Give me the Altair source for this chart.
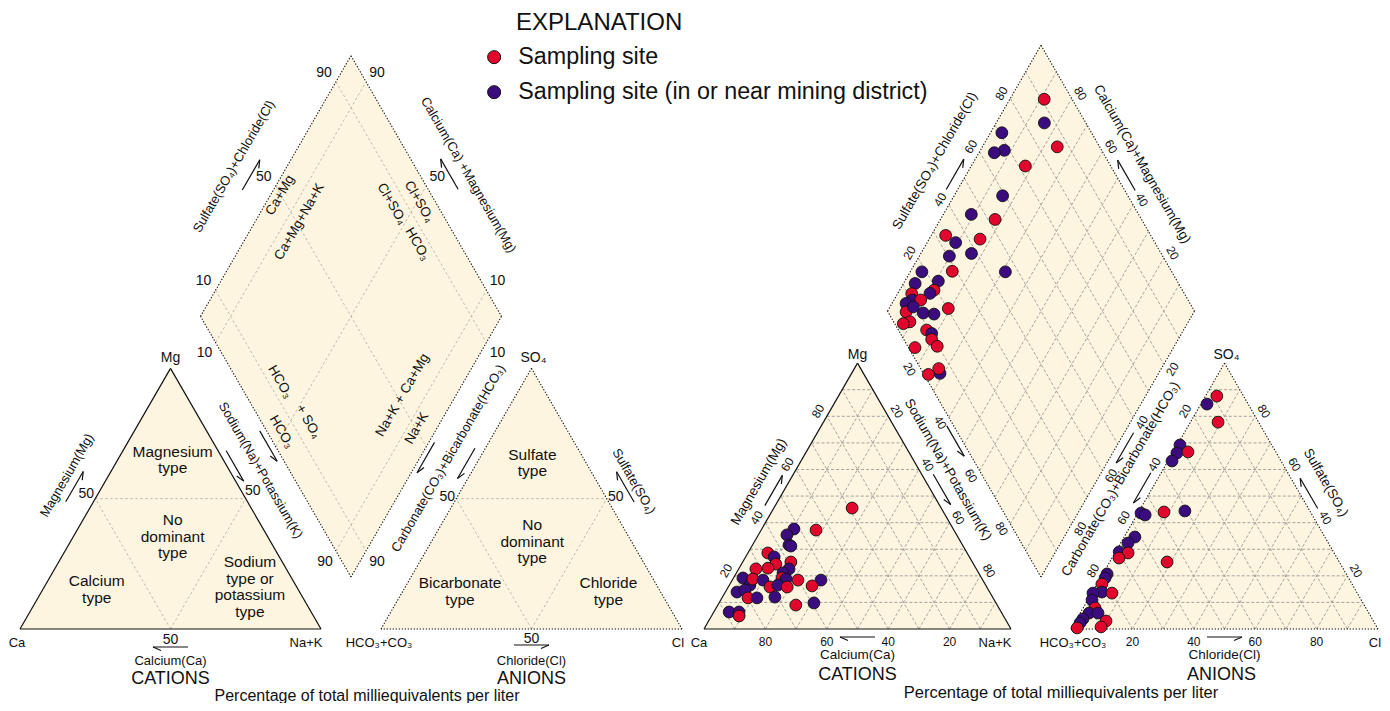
import math
import altair as alt
import pandas as pd

FONT = "Liberation Sans"
H = math.sqrt(3) / 2
RED = "#E2062C"
PURPLE = "#3B0C7D"
FILL = "#FDF5DF"
GRID = "#9A9A9A"
INK = "#111111"
LINE_H = 16.5

SITE_A = "Sampling site"
SITE_B = "Sampling site (in or near mining district)"
GROUP_NAME = {"R": SITE_A, "P": SITE_B}

# ---------------- data: percent of total milliequivalents per liter ----------------
# cation triangle (right diagram)
cat_mg = [37.6, 35.4, 31.6, 31.2, 37.2, 45.5, 28.6, 27.1, 24.4, 25.2, 22.6, 21.1, 22.6, 22.9, 19.2, 16.5,
          18.8, 18.4, 19.2, 18.8, 18.4, 15.8, 16.5, 15.8, 18.4, 16.2, 13.9, 14.7, 11.7, 11.7, 12.0, 9.0,
          9.8, 6.4, 6.4, 4.9]
cat_nak = [10.5, 9.3, 11.9, 12.7, 17.9, 25.5, 6.5, 9.3, 11.2, 15.7, 16.4, 15.2, 5.6, 9.4, 3.1, 6.7,
           6.5, 10.0, 15.8, 17.3, 21.4, 13.6, 15.8, 19.2, 28.9, 27.1, 3.8, 6.0, 8.5, 11.4, 17.1, 25.4,
           30.9, 5.0, 8.2, 9.0]
cat_grp = ["P", "P", "P", "P", "R", "R", "R", "P", "R", "R", "P", "P", "R", "R", "P", "P",
           "R", "P", "R", "P", "R", "R", "P", "R", "P", "R", "P", "P", "R", "P", "P", "R",
           "P", "P", "P", "R"]

# anion triangle (right diagram)
an_so4 = [87.6, 84.6, 77.8, 69.2, 66.2, 66.6, 63.2, 43.6, 42.9, 44.0, 44.4, 34.6, 32.3, 29.0, 28.6, 26.7,
          25.2, 20.7, 19.2, 16.9, 13.9, 13.5, 13.5, 10.9, 7.9, 6.0, 6.0, 3.0, 0.8, 3.8, 2.3, 0.4]
an_cl = [3.7, 2.0, 9.0, 0.9, 1.4, 4.8, 1.3, 1.0, 2.7, 8.3, 14.9, 3.5, 2.4, 1.2, 4.3, 2.3,
         18.7, 1.4, 1.5, 1.6, 3.1, 6.6, 0.4, 1.4, 3.9, 2.9, 5.8, 9.9, 9.4, 2.0, 1.8, 1.8]
an_grp = ["R", "P", "R", "P", "P", "R", "P", "P", "P", "R", "P", "P", "P", "P", "R", "R",
          "R", "P", "P", "R", "P", "R", "P", "P", "R", "P", "P", "R", "R", "P", "P", "R"]

# diamond (right diagram): sulfate+chloride %, sodium+potassium %
dia_so4cl = [90.9, 86.5, 70.8, 68.3, 64.6, 86.2, 72.2, 59.2, 45.5, 52.3, 33.2, 35.1, 43.7, 30.5, 38.2,
             28.6, 45.8, 18.6, 22.2, 19.1, 17.2, 14.2, 11.2, 10.2, 12.9, 7.5, 5.9, 9.2, 11.3, 14.6, 20.3,
             5.3, 2.8, 9.2, 10.2, 9.1, 9.6, 2.1, 5.4, 5.9, 1.4]
dia_nak = [11.2, 15.7, 3.7, 7.8, 5.0, 24.4, 17.6, 15.8, 9.1, 17.8, 4.7, 9.3, 16.6, 9.8, 16.5,
           13.6, 31.0, 3.8, 10.9, 11.2, 10.5, 3.8, 4.6, 6.0, 8.7, 4.6, 6.2, 7.6, 12.0, 15.7, 19.3,
           9.3, 7.5, 16.3, 18.6, 19.7, 22.8, 15.8, 28.8, 27.5, 25.2]
dia_grp = ["R", "P", "P", "P", "P", "R", "R", "P", "P", "R", "R", "P", "R", "P", "P",
           "R", "P", "P", "P", "R", "P", "P", "R", "P", "R", "P", "R", "P", "P", "P", "R",
           "R", "R", "R", "P", "R", "R", "R", "P", "R", "R"]

RIGHT_TICKS = [20, 40, 60, 80]
LEFT_DIAMOND_LEVELS = [10, 50, 90]
LEFT_TRIANGLE_LEVELS = [50]
RIGHT_LEVELS = [10, 20, 30, 40, 50, 60, 70, 80, 90]


# ---------------- geometry ----------------
def piper_geom(x0, y0, s, gap):
    g = {"s": s}
    g["Ca"] = (x0, y0)
    g["NaK"] = (x0 + s, y0)
    g["Mg"] = (x0 + s / 2, y0 - s * H)
    ax = x0 + s + gap
    g["HCO3"] = (ax, y0)
    g["Cl"] = (ax + s, y0)
    g["SO4"] = (ax + s / 2, y0 - s * H)
    bx, by = x0 + s + gap / 2, y0 - gap * H
    g["B"] = (bx, by)
    g["L"] = (bx - s / 2, by - s * H)
    g["T"] = (bx, by - 2 * s * H)
    g["R"] = (bx + s / 2, by - s * H)
    return g


LEFT = piper_geom(20, 629, 301, 60)
RIGHT = piper_geom(704, 629, 307, 60)


def cat_xy(g, mg, nak):
    s = g["s"]
    x0, y0 = g["Ca"]
    return (x0 + s * (nak + mg / 2) / 100, y0 - s * H * mg / 100)


def an_xy(g, so4, cl):
    s = g["s"]
    x0, y0 = g["HCO3"]
    return (x0 + s * (cl + so4 / 2) / 100, y0 - s * H * so4 / 100)


def dia_xy(g, so4cl, nak):
    L, T, B = g["L"], g["T"], g["B"]
    return (L[0] + (T[0] - L[0]) * so4cl / 100 + (B[0] - L[0]) * nak / 100,
            L[1] + (T[1] - L[1]) * so4cl / 100 + (B[1] - L[1]) * nak / 100)


SIDES = {"cat_l": ("Ca", "Mg"), "cat_r": ("Mg", "NaK"), "cat_b": ("NaK", "Ca"),
         "an_l": ("HCO3", "SO4"), "an_r": ("SO4", "Cl"), "an_b": ("Cl", "HCO3"),
         "dia_ul": ("L", "T"), "dia_ur": ("T", "R"), "dia_lr": ("R", "B"), "dia_ll": ("B", "L")}


def side_frame(g, side):
    p0, p1 = g[SIDES[side][0]], g[SIDES[side][1]]
    dx, dy = p1[0] - p0[0], p1[1] - p0[1]
    ln = math.hypot(dx, dy)
    u = (dx / ln, dy / ln)
    n = (u[1], -u[0])
    return p0, p1, u, n


def along(g, side, t, d):
    p0, p1, u, n = side_frame(g, side)
    return (p0[0] + (p1[0] - p0[0]) * t + n[0] * d, p0[1] + (p1[1] - p0[1]) * t + n[1] * d)


# ---------------- build tables ----------------
fills, segs, texts, left_texts = [], [], [], []


def seg(p, q, kind):
    segs.append(dict(x=p[0], y=p[1], x2=q[0], y2=q[1], kind=kind))


def txt(p, label, angle=0, size=13, dx=0, dy=0, table=None):
    nlines = label.count("\n") + 1
    dy = dy - (nlines - 1) * LINE_H / 2
    (texts if table is None else table).append(
        dict(x=p[0] + dx, y=p[1] + dy, label=label, angle=angle, size=size))


def add_fills(name, g):
    for key, (a, m, b) in (("c", (g["Ca"], g["Mg"], g["NaK"])), ("a", (g["HCO3"], g["SO4"], g["Cl"]))):
        fills.extend([dict(shape=name + key, x=a[0], yt=a[1], yb=a[1]),
                      dict(shape=name + key, x=m[0], yt=m[1], yb=a[1]),
                      dict(shape=name + key, x=b[0], yt=b[1], yb=b[1])])
    L, T, R, B = g["L"], g["T"], g["R"], g["B"]
    fills.extend([dict(shape=name + "d", x=L[0], yt=L[1], yb=L[1]),
                  dict(shape=name + "d", x=T[0], yt=T[1], yb=B[1]),
                  dict(shape=name + "d", x=R[0], yt=R[1], yb=R[1])])


def tri_grid(g, f, levels, kind):
    for v in levels:
        seg(f(g, v, 0), f(g, v, 100 - v), kind)
        seg(f(g, 0, v), f(g, 100 - v, v), kind)
        seg(f(g, 0, 100 - v), f(g, 100 - v, 0), kind)


def dia_grid(g, levels, kind):
    for v in levels:
        seg(dia_xy(g, v, 0), dia_xy(g, v, 100), kind)
        seg(dia_xy(g, 0, v), dia_xy(g, 100, v), kind)


def outline(g, names, kind):
    pts = [g[n] for n in names]
    for i in range(len(pts)):
        seg(pts[i], pts[(i + 1) % len(pts)], kind)


def arrow(g, side, t, d, direction, length=35):
    p0, p1, u, n = side_frame(g, side)
    c = along(g, side, t, d)
    ux, uy = u[0] * direction, u[1] * direction
    tail = (c[0] - ux * length / 2, c[1] - uy * length / 2)
    tip = (c[0] + ux * length / 2, c[1] + uy * length / 2)
    px, py = -uy, ux
    if py < 0 or (abs(py) < 1e-9 and px < 0):
        px, py = -px, -py
    barb = (tip[0] - ux * 8 + px * 3.5, tip[1] - uy * 8 + py * 3.5)
    seg(tail, tip, "arrow")
    seg(tip, barb, "arrow")


for nm, g in (("left", LEFT), ("right", RIGHT)):
    add_fills(nm, g)

# grids
tri_grid(LEFT, cat_xy, LEFT_TRIANGLE_LEVELS, "gridL")
tri_grid(LEFT, an_xy, LEFT_TRIANGLE_LEVELS, "gridL")
dia_grid(LEFT, LEFT_DIAMOND_LEVELS, "gridL")
tri_grid(RIGHT, cat_xy, RIGHT_LEVELS, "grid")
tri_grid(RIGHT, an_xy, RIGHT_LEVELS, "grid")
dia_grid(RIGHT, RIGHT_LEVELS, "grid")

# outlines
for g in (LEFT, RIGHT):
    outline(g, ["Ca", "Mg", "NaK"], "solid")
    outline(g, ["HCO3", "SO4", "Cl"], "dotted")
    outline(g, ["L", "T", "R", "B"], "dotted")

# ---------------- left (explanatory) diagram text ----------------
g = LEFT
txt(g["Mg"], "Mg", dy=-10, size=14)
txt(g["Ca"], "Ca", dx=-3, dy=14)
txt(g["NaK"], "Na+K", dx=-15, dy=14)
txt(g["SO4"], "SO₄", dx=2, dy=-10, size=14)
txt(g["HCO3"], "HCO₃+CO₃", dx=-2, dy=14)
txt(g["Cl"], "Cl", dx=-4, dy=14)

txt(along(g, "cat_b", 0.5, 11), "50", size=14)
txt(cat_xy(g, 50, 0), "50", dx=-9, dy=-5, size=14)
txt(cat_xy(g, 50, 50), "50", dx=7, dy=-8, size=14)
txt(along(g, "an_b", 0.5, 10), "50", size=14)
txt(an_xy(g, 50, 0), "50", dx=-9, dy=-2, size=14)
txt(an_xy(g, 50, 50), "50", dx=9, dy=-2, size=14)
for v in LEFT_DIAMOND_LEVELS:
    txt(dia_xy(g, v, 0), str(v), dx=-12, dy=-9, size=14)
    txt(dia_xy(g, 100, 100 - v), str(v), dx=11, dy=-9, size=14)
    if v != 50:
        txt(dia_xy(g, 0, v), str(v), dx=-11, dy=11, size=14)
        txt(dia_xy(g, 100 - v, 100), str(v), dx=11, dy=11, size=14)

txt(along(g, "cat_l", 0.52, 36), "Magnesium(Mg)", angle=300)
txt(along(g, "cat_r", 0.443, 27), "Sodium(Na)+Potassium(K)", angle=60)
txt(along(g, "an_l", 0.603, 27), "Carbonate(CO₃)+Bicarbonate(HCO₃)", angle=300)
txt(along(g, "an_r", 0.495, 32), "Sulfate(SO₄)", angle=60)
txt(along(g, "dia_ul", 0.487, 46), "Sulfate(SO₄)+Chloride(Cl)", angle=300)
txt(along(g, "dia_ur", 0.538, 42), "Calcium(Ca) +Magnesium(Mg)", angle=60)
txt(along(g, "cat_b", 0.5, 32), "Calcium(Ca)")
txt(along(g, "cat_b", 0.5, 50), "CATIONS", size=18)
txt(along(g, "an_b", 0.5, 32), "Chloride(Cl)")
txt(along(g, "an_b", 0.5, 50), "ANIONS", size=18)

arrow(g, "cat_l", 0.50, 24, 1)
arrow(g, "cat_r", 0.388, 7, 1)
arrow(g, "dia_ll", 0.514, 6, -1)
arrow(g, "an_l", 0.618, 9, -1)
arrow(g, "dia_lr", 0.532, 5, 1)
arrow(g, "an_r", 0.497, 22, -1)
arrow(g, "dia_ul", 0.491, 27, 1)
arrow(g, "dia_ur", 0.504, 26, -1)
arrow(g, "cat_b", 0.5, 18, 1)
arrow(g, "an_b", 0.5, 16, -1)

# diamond boundary notes (positions expressed in diamond percentages)
txt(dia_xy(g, 49.7, 3.2), "Ca+Mg", angle=300, size=13.5)
txt(dia_xy(g, 51.0, 14.7), "Ca+Mg+Na+K", angle=300, size=13.5)
txt(dia_xy(g, 94.6, 50.6), "Cl+SO₄", angle=60, size=13.5)
txt(dia_xy(g, 85.1, 42.0), "Cl+SO₄", angle=60, size=13.5)
txt(dia_xy(g, 85.9, 58.2), "HCO₃", angle=60, size=13.5)
txt(dia_xy(g, 13.9, 39.0), "HCO₃", angle=60, size=13.5)
txt(dia_xy(g, 15.6, 56.0), "+ SO₄", angle=60, size=13.5)
txt(dia_xy(g, 4.8, 49.1), "HCO₃", angle=60, size=13.5)
txt(dia_xy(g, 52.0, 82.2), "Na+K + Ca+Mg", angle=300, size=13.5)
txt(dia_xy(g, 50.4, 93.3), "Na+K", angle=300, size=13.5)

# water-type regions
txt(cat_xy(g, 64.8, 18.3), "Magnesium\ntype", size=15.5)
txt(cat_xy(g, 35.4, 33.0), "No\ndominant\ntype", size=15.5)
txt(cat_xy(g, 15.2, 17.9), "Calcium\ntype", size=15.5)
txt(cat_xy(g, 16.2, 68.3), "Sodium\ntype or\npotassium\ntype", size=15.5)
txt(an_xy(g, 63.6, 18.5), "Sulfate\ntype", size=15.5)
txt(an_xy(g, 33.5, 33.5), "No\ndominant\ntype", size=15.5)
txt(an_xy(g, 14.3, 19.1), "Bicarbonate\ntype", size=15.5)
txt(an_xy(g, 14.3, 68.4), "Chloride\ntype", size=15.5)

# ---------------- right (data) diagram text ----------------
g = RIGHT
txt(g["Mg"], "Mg", dy=-8, size=14)
txt(g["Ca"], "Ca", dx=-5, dy=14)
txt(g["NaK"], "Na+K", dx=-16, dy=14)
txt(g["SO4"], "SO₄", dx=2, dy=-8, size=14)
txt(g["HCO3"], "HCO₃+CO₃", dx=2, dy=14)
txt(g["Cl"], "Cl", dx=-3, dy=14)

for v in RIGHT_TICKS:
    txt(along(g, "cat_b", v / 100, 13), str(v), size=12)            # calcium
    txt(along(g, "cat_l", v / 100, 10), str(v), angle=300, size=12)  # magnesium
    txt(along(g, "cat_r", v / 100, 10), str(v), angle=60, size=12)   # sodium+potassium
    txt(along(g, "an_b", 1 - v / 100, 13), str(v), size=12)          # chloride
    txt(along(g, "an_l", 1 - v / 100, 10), str(v), angle=300, size=12)  # bicarbonate
    txt(along(g, "an_r", 1 - v / 100, 10), str(v), angle=60, size=12)   # sulfate
    txt(along(g, "dia_ul", v / 100, 10), str(v), angle=300, size=12)    # sulfate+chloride
    txt(along(g, "dia_ur", 1 - v / 100, 10), str(v), angle=60, size=12)  # calcium+magnesium
    txt(along(g, "dia_ll", 1 - v / 100, 10), str(v), angle=60, size=12)  # sodium+potassium
    txt(along(g, "dia_lr", v / 100, 10), str(v), angle=300, size=12)     # carbonate+bicarbonate

txt(along(g, "cat_l", 0.505, 26), "Magnesium(Mg)", angle=300, size=13.5)
txt(along(g, "cat_r", 0.448, 25), "Sodium(Na)+Potassium(K)", angle=60, size=13.5)
txt(along(g, "an_l", 0.504, 32), "Carbonate(CO₃)+Bicarbonate(HCO₃)", angle=300, size=13.5)
txt(along(g, "an_r", 0.502, 28), "Sulfate(SO₄)", angle=60, size=13.5)
txt(along(g, "dia_ul", 0.501, 34), "Sulfate(SO₄)+Chloride(Cl)", angle=300, size=13.5)
txt(along(g, "dia_ur", 0.5, 28), "Calcium(Ca)+Magnesium(Mg)", angle=60, size=13.5)
txt(along(g, "cat_b", 0.5, 26), "Calcium(Ca)", size=13.5)
txt(along(g, "cat_b", 0.5, 46), "CATIONS", size=18)
txt(along(g, "an_b", 0.5, 26), "Chloride(Cl)", size=13.5)
txt(along(g, "an_b", 0.51, 46), "ANIONS", size=18)

arrow(g, "cat_l", 0.504, 9, 1)
arrow(g, "cat_r", 0.494, 10, 1)
arrow(g, "dia_ll", 0.523, 6, -1)
arrow(g, "an_l", 0.514, 9, -1)
arrow(g, "dia_lr", 0.499, 8, 1)
arrow(g, "an_r", 0.505, 8, -1)
arrow(g, "dia_ul", 0.496, 10, 1)
arrow(g, "dia_ur", 0.506, 9, -1)
arrow(g, "cat_b", 0.5, 8, 1)
arrow(g, "an_b", 0.5, 8, -1)

# footers and legend heading
txt(((LEFT["NaK"][0] + LEFT["HCO3"][0]) / 2 + 16, 695.5), "Percentage of total milliequivalents per liter", size=16)
txt(((RIGHT["NaK"][0] + RIGHT["HCO3"][0]) / 2 + 20, 693), "Percentage of total milliequivalents per liter", size=16.5)
txt((516, 22.5), "EXPLANATION", size=24, table=left_texts)

# data points
pts = []
for mg, nak, gp in zip(cat_mg, cat_nak, cat_grp):
    x, y = cat_xy(RIGHT, mg, nak)
    pts.append(dict(x=x, y=y, site=GROUP_NAME[gp]))
for so4, cl, gp in zip(an_so4, an_cl, an_grp):
    x, y = an_xy(RIGHT, so4, cl)
    pts.append(dict(x=x, y=y, site=GROUP_NAME[gp]))
for sc, nk, gp in zip(dia_so4cl, dia_nak, dia_grp):
    x, y = dia_xy(RIGHT, sc, nk)
    pts.append(dict(x=x, y=y, site=GROUP_NAME[gp]))

fill_df = pd.DataFrame(fills)
seg_df = pd.DataFrame(segs)
text_df = pd.DataFrame(texts)
ltext_df = pd.DataFrame(left_texts)
pt_df = pd.DataFrame(pts)

# ---------------- chart ----------------
xs = alt.Scale(domain=[8, 1382], nice=False, zero=False)
ys = alt.Scale(domain=[8, 703], nice=False, zero=False, reverse=True)


def X(f):
    return alt.X(f, type="quantitative", scale=xs, axis=None)


def Y(f):
    return alt.Y(f, type="quantitative", scale=ys, axis=None, stack=None)


fill_layer = alt.Chart(fill_df).mark_area(color=FILL, orient="vertical", interpolate="linear").encode(
    x=X("x"), y=Y("yt"), y2=alt.Y2("yb"), detail="shape:N")


def rule_layer(kind, **style):
    return alt.Chart(seg_df[seg_df["kind"] == kind]).mark_rule(**style).encode(
        x=X("x"), y=Y("y"), x2=alt.X2("x2"), y2=alt.Y2("y2"))


grid_left = rule_layer("gridL", color="#A8A8A8", strokeWidth=0.8, strokeDash=[2.5, 2.5])
grid_right = rule_layer("grid", color=GRID, strokeWidth=0.9, strokeDash=[3, 2])
solid = rule_layer("solid", color=INK, strokeWidth=1.2)
dotted = rule_layer("dotted", color=INK, strokeWidth=1.1, strokeDash=[1.3, 1.7])
arrows = rule_layer("arrow", color=INK, strokeWidth=1.2)

points = alt.Chart(pt_df).mark_point(
    filled=True, shape="circle", size=140, stroke=INK, strokeWidth=0.9, opacity=1
).encode(
    x=X("x"), y=Y("y"),
    color=alt.Color("site:N", scale=alt.Scale(domain=[SITE_A, SITE_B], range=[RED, PURPLE]),
                    legend=alt.Legend(title=None, orient="none", legendX=474.5, legendY=37.5,
                                      symbolType="circle", symbolSize=170, symbolStrokeColor=INK,
                                      symbolStrokeWidth=1, symbolOpacity=1, labelFont=FONT,
                                      labelFontSize=23.3, labelColor=INK, labelOffset=12.5,
                                      rowPadding=11, padding=0, labelLimit=600)))

text_layer = alt.Chart(text_df).mark_text(
    font=FONT, color=INK, align="center", baseline="middle", lineBreak="\n", lineHeight=LINE_H
).encode(x=X("x"), y=Y("y"), text="label:N",
         angle=alt.Angle("angle:Q", scale=None), size=alt.Size("size:Q", scale=None))

ltext_layer = alt.Chart(ltext_df).mark_text(
    font=FONT, color=INK, align="left", baseline="middle"
).encode(x=X("x"), y=Y("y"), text="label:N", size=alt.Size("size:Q", scale=None))

chart = alt.layer(fill_layer, grid_left, grid_right, solid, dotted, arrows, points,
                  text_layer, ltext_layer).properties(
    width=1374, height=695, padding=0, autosize=alt.AutoSizeParams(type="none")
).configure_view(stroke=None)

chart.save("out.html", embed_options={"renderer": "svg", "actions": False})
